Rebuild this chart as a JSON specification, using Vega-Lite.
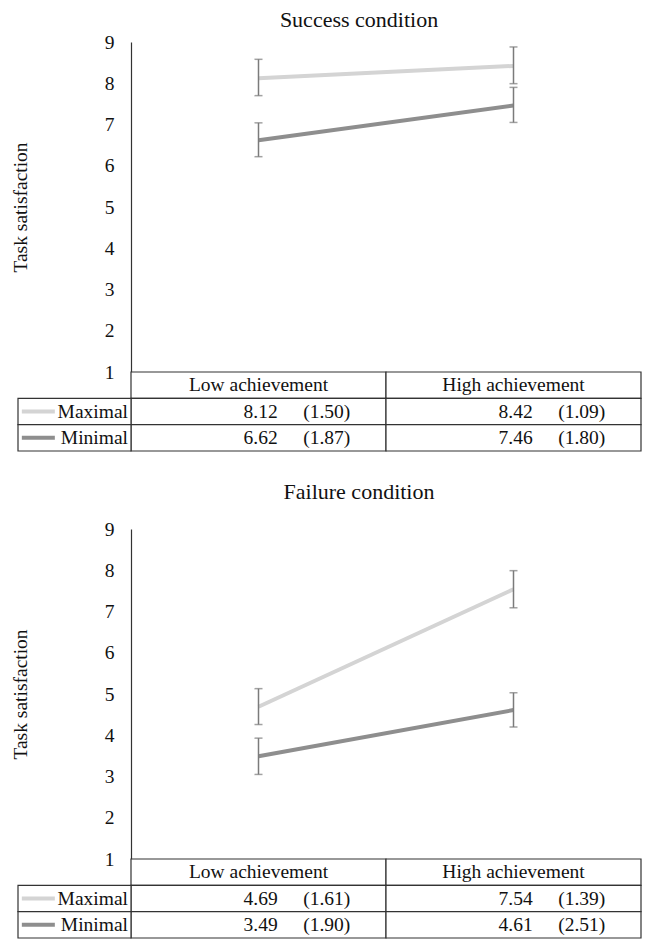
{
  "$schema": "https://vega.github.io/schema/vega-lite/v6.json",
  "padding": {"left": 10, "top": 9, "right": 2, "bottom": 0},
  "background": "white",
  "config": {
    "font": "Liberation Serif",
    "view": {"stroke": null},
    "title": {"font": "Liberation Serif", "fontWeight": "normal", "fontSize": 22, "color": "#111"},
    "text": {"font": "Liberation Serif", "fontSize": 19.5, "color": "#111"}
  },
  "datasets": {
    "means": [
      {"condition": "Success", "achievement": "Low achievement", "goal": "Maximal", "mean": 8.12, "sd": 1.50, "lower": 7.70, "upper": 8.58},
      {"condition": "Success", "achievement": "High achievement", "goal": "Maximal", "mean": 8.42, "sd": 1.09, "lower": 7.99, "upper": 8.88},
      {"condition": "Success", "achievement": "Low achievement", "goal": "Minimal", "mean": 6.62, "sd": 1.87, "lower": 6.22, "upper": 7.04},
      {"condition": "Success", "achievement": "High achievement", "goal": "Minimal", "mean": 7.46, "sd": 1.80, "lower": 7.05, "upper": 7.90},
      {"condition": "Failure", "achievement": "Low achievement", "goal": "Maximal", "mean": 4.69, "sd": 1.61, "lower": 4.26, "upper": 5.13},
      {"condition": "Failure", "achievement": "High achievement", "goal": "Maximal", "mean": 7.54, "sd": 1.39, "lower": 7.09, "upper": 7.99},
      {"condition": "Failure", "achievement": "Low achievement", "goal": "Minimal", "mean": 3.49, "sd": 1.90, "lower": 3.05, "upper": 3.93},
      {"condition": "Failure", "achievement": "High achievement", "goal": "Minimal", "mean": 4.61, "sd": 2.51, "lower": 4.20, "upper": 5.03}
    ]
  },
  "spacing": 29,
  "vconcat": [
    {
      "spacing": 0,
      "bounds": "flush",
      "vconcat": [
        {
          "width": 510, "height": 330,
          "title": {"text": "Success condition", "offset": 0, "dx": -27},
          "data": {"name": "means"},
          "transform": [{"filter": "datum.condition === 'Success'"}],
          "encoding": {
            "x": {"field": "achievement", "type": "nominal", "scale": {"type": "band", "domain": ["Low achievement", "High achievement"], "paddingInner": 0, "paddingOuter": 0}, "axis": null}
          },
          "layer": [
            {
              "mark": {"type": "line", "strokeWidth": 4},
              "encoding": {
                "y": {"field": "mean", "type": "quantitative", "title": "Task satisfaction", "scale": {"domain": [1, 9], "nice": false, "zero": false},
                  "axis": {"values": [1, 2, 3, 4, 5, 6, 7, 8, 9], "ticks": false, "tickSize": 0, "grid": false, "domainColor": "#333", "domainWidth": 1.2, "labelFont": "Liberation Serif", "labelFontSize": 19.5, "labelColor": "#111", "labelPadding": 17, "labelFlush": false, "titleFont": "Liberation Serif", "titleFontSize": 19.5, "titleFontWeight": "normal", "titleColor": "#111", "titlePadding": 74}},
                "color": {"field": "goal", "type": "nominal", "scale": {"domain": ["Maximal", "Minimal"], "range": ["#d4d4d4", "#8e8e8e"]}, "legend": null}
              }
            },
            {
              "mark": {"type": "rule", "color": "#7b7b7b", "strokeWidth": 1.5},
              "encoding": {"y": {"field": "lower", "type": "quantitative", "title": "Task satisfaction"}, "y2": {"field": "upper"}}
            },
            {
              "mark": {"type": "tick", "color": "#7b7b7b", "thickness": 1.5, "size": 8},
              "encoding": {"y": {"field": "lower", "type": "quantitative", "title": "Task satisfaction"}}
            },
            {
              "mark": {"type": "tick", "color": "#7b7b7b", "thickness": 1.5, "size": 8},
              "encoding": {"y": {"field": "upper", "type": "quantitative", "title": "Task satisfaction"}}
            }
          ]
        },
        {
          "width": 510, "height": 79,
          "data": {"name": "means"},
          "transform": [
            {"filter": "datum.condition === 'Success'"},
            {"calculate": "'(' + format(datum.sd, '.2f') + ')'", "as": "sdText"}
          ],
          "layer": [
            {
              "transform": [{"filter": "datum.goal === 'Maximal'"}],
              "mark": {"type": "rect", "fill": "white", "stroke": "#333", "strokeWidth": 1.2},
              "encoding": {
                "x": {"field": "achievement", "type": "nominal", "scale": {"type": "band", "domain": ["Low achievement", "High achievement"], "paddingInner": 0, "paddingOuter": 0}, "axis": null},
                "y": {"datum": "header", "type": "nominal", "scale": {"type": "band", "domain": ["header", "Maximal", "Minimal"], "paddingInner": 0, "paddingOuter": 0}, "axis": null}
              }
            },
            {
              "transform": [{"filter": "datum.goal === 'Maximal'"}],
              "mark": {"type": "text"},
              "encoding": {
                "x": {"field": "achievement", "type": "nominal", "bandPosition": 0.5, "scale": {"type": "band", "domain": ["Low achievement", "High achievement"], "paddingInner": 0, "paddingOuter": 0}, "axis": null},
                "y": {"datum": "header", "type": "nominal", "axis": null},
                "text": {"field": "achievement"}
              }
            },
            {
              "mark": {"type": "rect", "fill": "white", "stroke": "#333", "strokeWidth": 1.2},
              "encoding": {
                "x": {"field": "achievement", "type": "nominal", "scale": {"type": "band", "domain": ["Low achievement", "High achievement"], "paddingInner": 0, "paddingOuter": 0}, "axis": null},
                "y": {"field": "goal", "type": "nominal", "axis": null}
              }
            },
            {
              "mark": {"type": "text", "align": "right"},
              "encoding": {
                "x": {"field": "achievement", "type": "nominal", "bandPosition": 0.575, "scale": {"type": "band", "domain": ["Low achievement", "High achievement"], "paddingInner": 0, "paddingOuter": 0}, "axis": null},
                "y": {"field": "goal", "type": "nominal", "axis": null},
                "text": {"field": "mean", "type": "quantitative", "format": ".2f"}
              }
            },
            {
              "mark": {"type": "text", "align": "right"},
              "encoding": {
                "x": {"field": "achievement", "type": "nominal", "bandPosition": 0.86, "scale": {"type": "band", "domain": ["Low achievement", "High achievement"], "paddingInner": 0, "paddingOuter": 0}, "axis": null},
                "y": {"field": "goal", "type": "nominal", "axis": null},
                "text": {"field": "sdText"}
              }
            },
            {
              "transform": [{"filter": "datum.achievement === 'Low achievement'"}],
              "mark": {"type": "rect", "fill": "white", "stroke": "#333", "strokeWidth": 1.2},
              "encoding": {
                "x": {"datum": "label", "type": "nominal", "scale": {"type": "band", "domain": ["label"], "range": [-113, 0], "paddingInner": 0, "paddingOuter": 0}, "axis": null},
                "y": {"field": "goal", "type": "nominal", "axis": null}
              }
            },
            {
              "transform": [{"filter": "datum.achievement === 'Low achievement'"}],
              "mark": {"type": "point", "shape": "stroke", "size": 1089, "strokeWidth": 4, "opacity": 1, "filled": false},
              "encoding": {
                "x": {"datum": "label", "type": "nominal", "bandPosition": 0.18, "scale": {"type": "band", "domain": ["label"], "range": [-113, 0], "paddingInner": 0, "paddingOuter": 0}, "axis": null},
                "y": {"field": "goal", "type": "nominal", "axis": null},
                "color": {"field": "goal", "type": "nominal", "scale": {"domain": ["Maximal", "Minimal"], "range": ["#d4d4d4", "#8e8e8e"]}, "legend": null}
              }
            },
            {
              "transform": [{"filter": "datum.achievement === 'Low achievement'"}],
              "mark": {"type": "text", "align": "right", "dx": -3},
              "encoding": {
                "x": {"datum": "label", "type": "nominal", "bandPosition": 1, "scale": {"type": "band", "domain": ["label"], "range": [-113, 0], "paddingInner": 0, "paddingOuter": 0}, "axis": null},
                "y": {"field": "goal", "type": "nominal", "axis": null},
                "text": {"field": "goal"}
              }
            }
          ],
          "resolve": {"scale": {"x": "independent"}}
        }
      ]
    },
    {
      "spacing": 0,
      "bounds": "flush",
      "vconcat": [
        {
          "width": 510, "height": 330,
          "title": {"text": "Failure condition", "offset": 15, "dx": -27},
          "data": {"name": "means"},
          "transform": [{"filter": "datum.condition === 'Failure'"}],
          "encoding": {
            "x": {"field": "achievement", "type": "nominal", "scale": {"type": "band", "domain": ["Low achievement", "High achievement"], "paddingInner": 0, "paddingOuter": 0}, "axis": null}
          },
          "layer": [
            {
              "mark": {"type": "line", "strokeWidth": 4},
              "encoding": {
                "y": {"field": "mean", "type": "quantitative", "title": "Task satisfaction", "scale": {"domain": [1, 9], "nice": false, "zero": false},
                  "axis": {"values": [1, 2, 3, 4, 5, 6, 7, 8, 9], "ticks": false, "tickSize": 0, "grid": false, "domainColor": "#333", "domainWidth": 1.2, "labelFont": "Liberation Serif", "labelFontSize": 19.5, "labelColor": "#111", "labelPadding": 17, "labelFlush": false, "titleFont": "Liberation Serif", "titleFontSize": 19.5, "titleFontWeight": "normal", "titleColor": "#111", "titlePadding": 74}},
                "color": {"field": "goal", "type": "nominal", "scale": {"domain": ["Maximal", "Minimal"], "range": ["#d4d4d4", "#8e8e8e"]}, "legend": null}
              }
            },
            {
              "mark": {"type": "rule", "color": "#7b7b7b", "strokeWidth": 1.5},
              "encoding": {"y": {"field": "lower", "type": "quantitative", "title": "Task satisfaction"}, "y2": {"field": "upper"}}
            },
            {
              "mark": {"type": "tick", "color": "#7b7b7b", "thickness": 1.5, "size": 8},
              "encoding": {"y": {"field": "lower", "type": "quantitative", "title": "Task satisfaction"}}
            },
            {
              "mark": {"type": "tick", "color": "#7b7b7b", "thickness": 1.5, "size": 8},
              "encoding": {"y": {"field": "upper", "type": "quantitative", "title": "Task satisfaction"}}
            }
          ]
        },
        {
          "width": 510, "height": 79,
          "data": {"name": "means"},
          "transform": [
            {"filter": "datum.condition === 'Failure'"},
            {"calculate": "'(' + format(datum.sd, '.2f') + ')'", "as": "sdText"}
          ],
          "layer": [
            {
              "transform": [{"filter": "datum.goal === 'Maximal'"}],
              "mark": {"type": "rect", "fill": "white", "stroke": "#333", "strokeWidth": 1.2},
              "encoding": {
                "x": {"field": "achievement", "type": "nominal", "scale": {"type": "band", "domain": ["Low achievement", "High achievement"], "paddingInner": 0, "paddingOuter": 0}, "axis": null},
                "y": {"datum": "header", "type": "nominal", "scale": {"type": "band", "domain": ["header", "Maximal", "Minimal"], "paddingInner": 0, "paddingOuter": 0}, "axis": null}
              }
            },
            {
              "transform": [{"filter": "datum.goal === 'Maximal'"}],
              "mark": {"type": "text"},
              "encoding": {
                "x": {"field": "achievement", "type": "nominal", "bandPosition": 0.5, "scale": {"type": "band", "domain": ["Low achievement", "High achievement"], "paddingInner": 0, "paddingOuter": 0}, "axis": null},
                "y": {"datum": "header", "type": "nominal", "axis": null},
                "text": {"field": "achievement"}
              }
            },
            {
              "mark": {"type": "rect", "fill": "white", "stroke": "#333", "strokeWidth": 1.2},
              "encoding": {
                "x": {"field": "achievement", "type": "nominal", "scale": {"type": "band", "domain": ["Low achievement", "High achievement"], "paddingInner": 0, "paddingOuter": 0}, "axis": null},
                "y": {"field": "goal", "type": "nominal", "axis": null}
              }
            },
            {
              "mark": {"type": "text", "align": "right"},
              "encoding": {
                "x": {"field": "achievement", "type": "nominal", "bandPosition": 0.575, "scale": {"type": "band", "domain": ["Low achievement", "High achievement"], "paddingInner": 0, "paddingOuter": 0}, "axis": null},
                "y": {"field": "goal", "type": "nominal", "axis": null},
                "text": {"field": "mean", "type": "quantitative", "format": ".2f"}
              }
            },
            {
              "mark": {"type": "text", "align": "right"},
              "encoding": {
                "x": {"field": "achievement", "type": "nominal", "bandPosition": 0.86, "scale": {"type": "band", "domain": ["Low achievement", "High achievement"], "paddingInner": 0, "paddingOuter": 0}, "axis": null},
                "y": {"field": "goal", "type": "nominal", "axis": null},
                "text": {"field": "sdText"}
              }
            },
            {
              "transform": [{"filter": "datum.achievement === 'Low achievement'"}],
              "mark": {"type": "rect", "fill": "white", "stroke": "#333", "strokeWidth": 1.2},
              "encoding": {
                "x": {"datum": "label", "type": "nominal", "scale": {"type": "band", "domain": ["label"], "range": [-113, 0], "paddingInner": 0, "paddingOuter": 0}, "axis": null},
                "y": {"field": "goal", "type": "nominal", "axis": null}
              }
            },
            {
              "transform": [{"filter": "datum.achievement === 'Low achievement'"}],
              "mark": {"type": "point", "shape": "stroke", "size": 1089, "strokeWidth": 4, "opacity": 1, "filled": false},
              "encoding": {
                "x": {"datum": "label", "type": "nominal", "bandPosition": 0.18, "scale": {"type": "band", "domain": ["label"], "range": [-113, 0], "paddingInner": 0, "paddingOuter": 0}, "axis": null},
                "y": {"field": "goal", "type": "nominal", "axis": null},
                "color": {"field": "goal", "type": "nominal", "scale": {"domain": ["Maximal", "Minimal"], "range": ["#d4d4d4", "#8e8e8e"]}, "legend": null}
              }
            },
            {
              "transform": [{"filter": "datum.achievement === 'Low achievement'"}],
              "mark": {"type": "text", "align": "right", "dx": -3},
              "encoding": {
                "x": {"datum": "label", "type": "nominal", "bandPosition": 1, "scale": {"type": "band", "domain": ["label"], "range": [-113, 0], "paddingInner": 0, "paddingOuter": 0}, "axis": null},
                "y": {"field": "goal", "type": "nominal", "axis": null},
                "text": {"field": "goal"}
              }
            }
          ],
          "resolve": {"scale": {"x": "independent"}}
        }
      ]
    }
  ]
}
